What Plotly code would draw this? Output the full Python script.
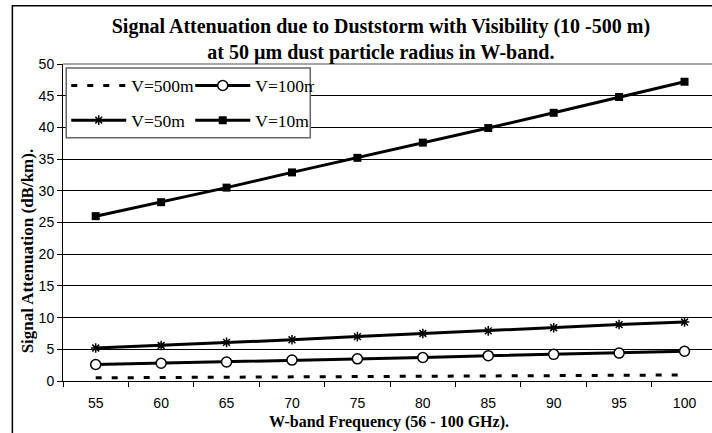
import plotly.graph_objects as go

freqs = ["55", "60", "65", "70", "75", "80", "85", "90", "95", "100"]
v500 = [0.5, 0.55, 0.6, 0.65, 0.7, 0.75, 0.8, 0.85, 0.9, 0.95]
v100 = [2.6, 2.8, 3.0, 3.3, 3.5, 3.7, 4.0, 4.2, 4.4, 4.7]
v50 = [5.2, 5.6, 6.1, 6.5, 7.0, 7.5, 7.9, 8.4, 8.9, 9.3]
v10 = [26.0, 28.2, 30.5, 32.9, 35.2, 37.6, 39.9, 42.3, 44.8, 47.2]
yticks = [0, 5, 10, 15, 20, 25, 30, 35, 40, 45, 50]

fig = go.Figure()
fig.add_trace(go.Scatter(x=freqs, y=v500, name="V=500m", mode="lines",
                         line=dict(color="black", width=3, dash="6px,10px"), legend="legend"))
fig.add_trace(go.Scatter(x=freqs, y=v100, name="V=100m", mode="lines+markers",
                         line=dict(color="black", width=3),
                         marker=dict(symbol="circle", size=10, color="white",
                                     line=dict(color="black", width=1.5)), legend="legend"))
fig.add_trace(go.Scatter(x=freqs, y=v50, name="V=50m", mode="lines+markers",
                         line=dict(color="black", width=3),
                         marker=dict(symbol="asterisk-open", size=8, color="black",
                                     line=dict(color="black", width=1.5)), legend="legend2"))
fig.add_trace(go.Scatter(x=freqs, y=v10, name="V=10m", mode="lines+markers",
                         line=dict(color="black", width=3),
                         marker=dict(symbol="square", size=8, color="black"), legend="legend2"))

serif = "Liberation Serif, Times New Roman, serif"
sans = "Liberation Sans, Arial, sans-serif"
leg_common = dict(orientation="h", xanchor="left", yanchor="middle",
                  bgcolor="rgba(0,0,0,0)", font=dict(family=serif, size=17.5, color="black"),
                  traceorder="normal", itemwidth=55, entrywidth=54)

fig.update_layout(
    width=712, height=433,
    margin=dict(l=63, r=0, t=64, b=52),
    paper_bgcolor="white", plot_bgcolor="white",
    showlegend=True,
    title=dict(text="<b>Signal Attenuation due to Duststorm with Visibility (10 -500 m)</b><br>"
                    "<b>at 50 µm dust particle radius in W-band.</b>",
               x=0.535, xanchor="center", y=0.924, yanchor="middle", xref="container", yref="container",
               font=dict(family=serif, size=20, color="black")),
    legend=dict(x=0.005, y=0.9316, **leg_common),
    legend2=dict(x=0.005, y=0.8224, **leg_common),
    xaxis=dict(type="category", range=[-0.5, 9.42], tickson="boundaries",
               ticks="outside", ticklen=5, tickcolor="black", ticklabelstandoff=9,
               showline=True, linecolor="black", linewidth=1, showgrid=False,
               tickfont=dict(family=sans, size=14, color="black"),
               zeroline=False),
    yaxis=dict(range=[0, 50], tickvals=yticks, ticks="outside", ticklen=5,
               tickcolor="black", showline=True, linecolor="black", linewidth=1,
               showgrid=True, gridcolor="black", gridwidth=1,
               tickfont=dict(family=sans, size=14, color="black"), zeroline=False),
    annotations=[
        dict(text="<b>W-band Frequency (56 - 100 GHz).</b>",
             xref="paper", yref="paper", x=0.502, y=-0.128, xanchor="center", yanchor="middle",
             showarrow=False, font=dict(family=serif, size=16, color="black")),
        dict(text="<b>Signal Attenuation (dB/km).</b>",
             xref="paper", yref="paper", x=-0.055, y=0.41, xanchor="center", yanchor="middle",
             textangle=-90, showarrow=False, font=dict(family=serif, size=17, color="black")),
    ],
    shapes=[
        dict(type="rect", xref="paper", yref="paper", x0=-0.078, x1=1.3, y0=-0.5, y1=1.184,
             line=dict(color="black", width=1.5), fillcolor="rgba(0,0,0,0)", layer="above"),
        dict(type="rect", xref="paper", yref="paper", x0=0.005, x1=0.381, y0=0.767, y1=0.987,
             line=dict(color="#666", width=1.5), fillcolor="white", layer="above"),
        dict(type="line", xref="paper", yref="paper", x0=0, x1=1, y0=1, y1=1,
             line=dict(color="#888", width=1.5), layer="below"),
    ],
)
fig.write_html("out.html", config={"displayModeBar": False},
               post_script="document.body.style.margin='0';")
